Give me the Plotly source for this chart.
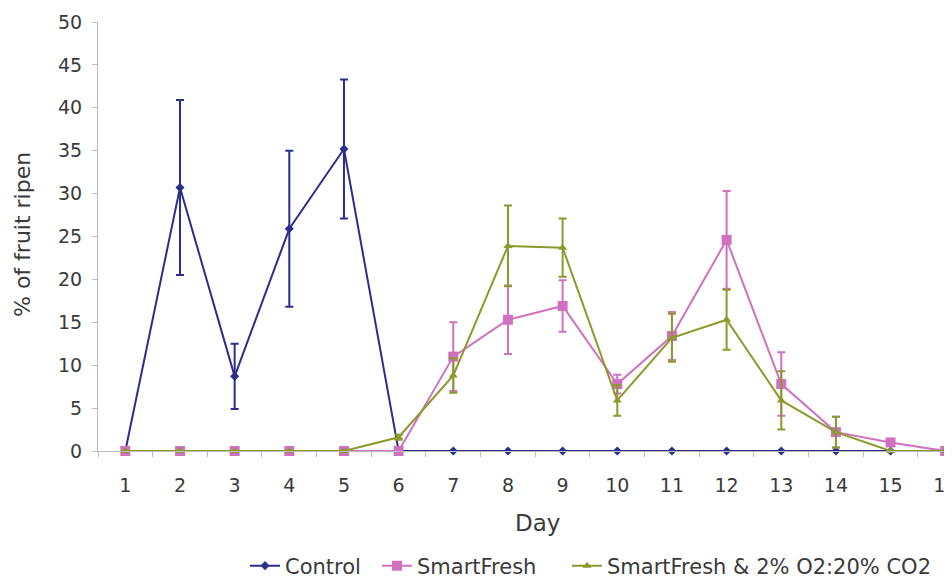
import plotly.graph_objects as go

days = list(range(1, 17))

control_days = list(range(1, 16))
control = [0, 30.7, 8.7, 25.9, 35.2, 0, 0, 0, 0, 0, 0, 0, 0, 0, 0]
control_err = [0, 10.2, 3.8, 9.1, 8.1, 0, 0, 0, 0, 0, 0, 0, 0, 0, 0]

smartfresh = [0, 0, 0, 0, 0, 0, 11.0, 15.3, 16.9, 7.8, 13.4, 24.6, 7.8, 2.2, 1.0, 0]
smartfresh_err = [0, 0, 0, 0, 0, 0, 4.0, 4.0, 3.0, 1.1, 2.8, 5.7, 3.7, 1.8, 0, 0]

sf_ca = [0, 0, 0, 0, 0, 1.6, 8.8, 23.9, 23.7, 5.9, 13.2, 15.3, 5.9, 2.2, 0, 0]
sf_ca_err = [0, 0, 0, 0, 0, 0.3, 2.0, 4.7, 3.4, 1.8, 2.8, 3.5, 3.4, 1.8, 0, 0]

names = ["Control", "SmartFresh", "SmartFresh & 2% O2:20% CO2"]
colors = ["#2B2F8C", "#D070C0", "#8C9A2C"]

fig = go.Figure()

fig.add_trace(go.Scatter(
    x=control_days, y=control, name=names[0], mode="lines+markers",
    line=dict(color=colors[0], width=2),
    marker=dict(symbol="diamond", size=7, color=colors[0]),
    error_y=dict(type="data", array=control_err, color=colors[0], thickness=2, width=4),
    cliponaxis=False, legend="legend",
))
fig.add_trace(go.Scatter(
    x=days, y=smartfresh, name=names[1], mode="lines+markers",
    line=dict(color=colors[1], width=2),
    marker=dict(symbol="square", size=10, color=colors[1]),
    error_y=dict(type="data", array=smartfresh_err, color=colors[1], thickness=2, width=4),
    cliponaxis=False, legend="legend2",
))
fig.add_trace(go.Scatter(
    x=days, y=sf_ca, name=names[2], mode="lines+markers",
    line=dict(color=colors[2], width=2),
    marker=dict(symbol="triangle-up", size=8, color=colors[2]),
    error_y=dict(type="data", array=sf_ca_err, color=colors[2], thickness=2, width=4),
    cliponaxis=False, legend="legend3",
))

font_family = "DejaVu Sans, Liberation Sans, Arial, sans-serif"
text_color = "#3A3A3A"
W, H = 952, 577
OFF = 8  # default page body margin
L, R, T = 98 - OFF, 0, 22 - OFF
B = H - (451 - OFF)
PW, PH = W - L - R, H - T - B


def px_x(px):
    return (px - OFF - L) / PW


def px_y(py):
    return (H - B - (py - OFF)) / PH


def leg(px):
    return dict(orientation="h", xref="container", yref="container",
                x=(px - OFF) / W, xanchor="left", y=1 - (566 - OFF) / H, yanchor="middle",
                font=dict(size=21, color=text_color, family=font_family),
                bgcolor="rgba(0,0,0,0)", itemwidth=30)


fig.update_layout(
    width=W, height=H,
    margin=dict(l=L, r=R, t=T, b=B, autoexpand=False),
    paper_bgcolor="white", plot_bgcolor="white",
    font=dict(family=font_family, size=19, color=text_color),
    showlegend=True,
    legend=leg(245),
    legend2=leg(377),
    legend3=leg(567),
    xaxis=dict(
        range=[0.5, 16.27], tickvals=days, ticktext=[str(d) for d in days],
        ticks="", showgrid=False, zeroline=False,
        showline=True, linecolor="#BBBBBB", linewidth=1,
        ticklabelstandoff=17, automargin=False, ticklabeloverflow="allow",
        tickfont=dict(size=19),
        minor=dict(tickvals=[d + 0.5 for d in range(0, 17)], ticks="outside",
                   ticklen=5, tickcolor="#BBBBBB", showgrid=False),
    ),
    yaxis=dict(
        range=[0, 50], dtick=5, ticks="outside", ticklen=5, tickcolor="#BBBBBB",
        showgrid=False, zeroline=False, showline=True, linecolor="#BBBBBB",
        linewidth=1, automargin=False, ticklabelstandoff=6,
        tickfont=dict(size=19),
    ),
    annotations=[
        dict(text="Day", xref="paper", yref="paper", x=px_x(537), y=px_y(523),
             showarrow=False, font=dict(size=23, color=text_color),
             xanchor="center", yanchor="middle"),
        dict(text="% of fruit ripen", xref="paper", yref="paper", x=px_x(23),
             y=px_y(235), showarrow=False, textangle=-90,
             font=dict(size=22, color=text_color), xanchor="center", yanchor="middle"),
    ],
)

fig.write_html("out.html")
